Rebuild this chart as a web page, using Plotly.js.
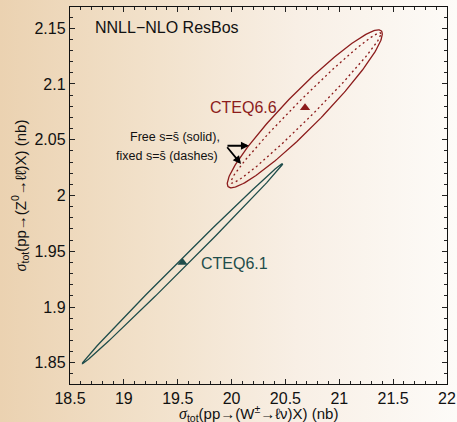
<!DOCTYPE html>
<html>
<head>
<meta charset="utf-8">
<script src="https://cdn.plot.ly/plotly-3.0.1.min.js"></script>
<style>
html,body{margin:0;padding:0;}
body{width:457px;height:422px;background:linear-gradient(to right,#ebd2b1 0%,#f2e2cc 35%,#f8efe5 65%,#fdfbf8 100%);}
#chart{width:457px;height:422px;}
</style>
</head>
<body>
<div id="chart"></div>
<script>
// Ellipse parameters (data units)
const ellipseNames = ['CTEQ6.1', 'CTEQ6.6 free s=sbar', 'CTEQ6.6 fixed s=sbar'];
const centerX = [19.545, 20.68, 20.69];
const centerY = [1.939, 2.0777, 2.0785];
const halfWidthX = [0.93, 0.72, 0.697];
const halfWidthY = [0.0897, 0.0708, 0.0674];
const correlation = [0.9984, 0.948, 0.985];
const ellipseColors = ['#1f4d4b', '#8c1c1c', '#8c1c1c'];
const ellipseDash = ['solid', 'solid', '2px,3px'];

// Central predictions
const pointNames = ['CTEQ6.1', 'CTEQ6.6'];
const pointX = [19.545, 20.682];
const pointY = [1.940, 2.0787];
const pointColors = ['#1f4d4b', '#8c1c1c'];

// Axis ticks
const xTickVals = [18.5, 19, 19.5, 20, 20.5, 21, 21.5, 22];
const xTickText = ['18.5', '19', '19.5', '20', '20.5', '21', '21.5', '22'];
const yTickVals = [1.85, 1.9, 1.95, 2, 2.05, 2.1, 2.15];
const yTickText = ['1.85', '1.9', '1.95', '2', '2.05', '2.1', '2.15'];

function ellipse(i) {
  const n = 240, xs = [], ys = [];
  const psi = Math.acos(correlation[i]);
  for (let k = 0; k <= n; k++) {
    const t = 2 * Math.PI * k / n;
    xs.push(centerX[i] + halfWidthX[i] * Math.cos(t));
    ys.push(centerY[i] + halfWidthY[i] * Math.cos(t - psi));
  }
  return {x: xs, y: ys};
}

const traces = [];
for (let i = 0; i < ellipseNames.length; i++) {
  const e = ellipse(i);
  traces.push({type: 'scatter', mode: 'lines', name: ellipseNames[i], x: e.x, y: e.y,
    line: {color: ellipseColors[i], width: 1.3, dash: ellipseDash[i]}, hoverinfo: 'skip'});
}
traces.push({type: 'scatter', mode: 'markers', x: pointX, y: pointY, name: 'central',
  marker: {symbol: 'triangle-up', size: 9, color: pointColors}});

const sig = '<span style="font-family:\'Liberation Serif\';font-style:italic;font-size:16px">σ</span><sub>tot</sub>';
const font = {family: 'Liberation Sans, Arial, sans-serif', color: '#111'};

const layout = {
  width: 457, height: 422,
  margin: {l: 70, r: 10, t: 7, b: 38},
  paper_bgcolor: 'rgba(0,0,0,0)', plot_bgcolor: 'rgba(0,0,0,0)',
  showlegend: false,
  font: font,
  xaxis: {
    range: [18.5, 22], tickvals: xTickVals, ticktext: xTickText,
    ticks: 'inside', ticklen: 5, tickwidth: 1, tickcolor: '#222',
    minor: {dtick: 0.1, ticks: 'inside', ticklen: 3, tickcolor: '#222', showgrid: false},
    showline: true, linecolor: '#111', linewidth: 1.2, mirror: 'ticks',
    showgrid: false, zeroline: false,
    tickfont: {size: 16, family: font.family, color: '#111'}
  },
  yaxis: {
    range: [1.831, 2.169], tickvals: yTickVals, ticktext: yTickText,
    ticks: 'inside', ticklen: 5, tickwidth: 1, tickcolor: '#222',
    minor: {dtick: 0.01, ticks: 'inside', ticklen: 3, tickcolor: '#222', showgrid: false},
    showline: true, linecolor: '#111', linewidth: 1.2, mirror: 'ticks',
    showgrid: false, zeroline: false,
    tickfont: {size: 16, family: font.family, color: '#111'},
    title: {text: sig + '(pp→(Z<sup>0</sup>→ℓℓ̄)X) (nb)', font: {size: 15, family: font.family, color: '#111'}, standoff: 4}
  },
  annotations: [
    {text: sig + '(pp→(W<sup>±</sup>→ℓν)X) (nb)', x: 0.5, y: -0.078, xref: 'paper', yref: 'paper', xanchor: 'center', yanchor: 'middle', showarrow: false, font: {size: 15, color: '#111'}},
    {text: 'NNLL−NLO ResBos', x: 19.40, y: 2.1509, xref: 'x', yref: 'y', xanchor: 'center', yanchor: 'middle', showarrow: false, font: {size: 16, color: '#111'}},
    {text: 'CTEQ6.6', x: 20.115, y: 2.0787, xref: 'x', yref: 'y', xanchor: 'center', yanchor: 'middle', showarrow: false, font: {size: 16, color: '#8c1c1c'}},
    {text: 'CTEQ6.1', x: 20.03, y: 1.939, xref: 'x', yref: 'y', xanchor: 'center', yanchor: 'middle', showarrow: false, font: {size: 16, color: '#1f4d4b'}},
    {text: 'Free s=s̄ (solid),', x: 19.475, y: 2.0525, xref: 'x', yref: 'y', xanchor: 'center', yanchor: 'middle', showarrow: false, font: {size: 12.5, color: '#111'}},
    {text: 'fixed s=s̄ (dashes)', x: 19.403, y: 2.0354, xref: 'x', yref: 'y', xanchor: 'center', yanchor: 'middle', showarrow: false, font: {size: 12.5, color: '#111'}},
    {text: '', x: 20.162, y: 2.0446, ax: 19.948, ay: 2.0446, xref: 'x', yref: 'y', axref: 'x', ayref: 'y', showarrow: true, arrowhead: 2, arrowsize: 0.9, arrowwidth: 1.8, arrowcolor: '#000'},
    {text: '', x: 20.088, y: 2.0282, ax: 19.948, ay: 2.0446, xref: 'x', yref: 'y', axref: 'x', ayref: 'y', showarrow: true, arrowhead: 2, arrowsize: 0.9, arrowwidth: 1.8, arrowcolor: '#000'}
  ]
};

Plotly.newPlot('chart', traces, layout, {displayModeBar: false, staticPlot: true});
</script>
</body>
</html>
